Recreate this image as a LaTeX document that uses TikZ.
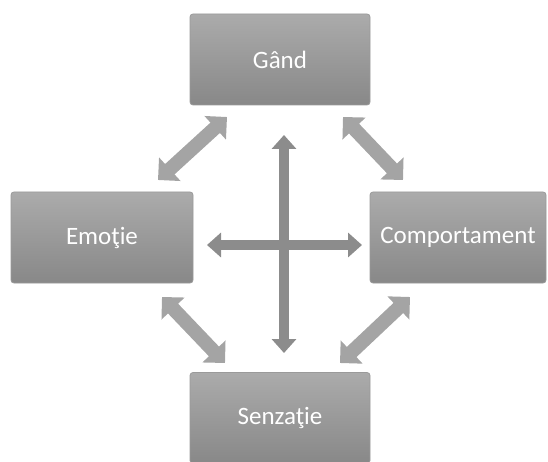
\documentclass[tikz,border=0pt]{standalone}
\usepackage{fontspec}
\setmainfont{Carlito}
\usetikzlibrary{arrows.meta}
\definecolor{boxtop}{HTML}{ABABAB}
\definecolor{boxbot}{HTML}{888888}
\definecolor{boxedge}{HTML}{9A9A9A}
\definecolor{diaggray}{HTML}{A4A4A4}
\definecolor{crossgray}{HTML}{8C8C8C}
\begin{document}
\begin{tikzpicture}[x=1pt,y=1pt,
  box/.style={rectangle, rounded corners=3pt, minimum width=180pt, minimum height=91pt,
    top color=boxtop, bottom color=boxbot, draw=boxedge, line width=0.8pt,
    text=white, font=\fontsize{25}{28}\selectfont, inner sep=0pt},
  diagarrow/.style={line width=14pt, draw=diaggray,
    {Triangle[length=16pt,width=31pt]}-{Triangle[length=16pt,width=31pt]}},
  crossarrow/.style={line width=10pt, draw=crossgray,
    {Triangle[length=14pt,width=24pt]}-{Triangle[length=14pt,width=24pt]}}]
\useasboundingbox (0,0) rectangle (548,461);
\node[box] (gand) at (280,401.5) {Gând};
\node[box, minimum width=182pt] (emotie) at (102,223.5) {Emoţie};
\node[box, minimum width=176pt] (comp) at (458,223.5) {Comportament};
\node[box] (senz) at (280,43) {Senzaţie};
% arrow end points
\coordinate (ge1) at (227,344);
\coordinate (ge2) at (158,281);
\coordinate (gc1) at (343,344);
\coordinate (gc2) at (403,281);
\coordinate (es1) at (162,164);
\coordinate (es2) at (225,98);
\coordinate (cs1) at (410,164);
\coordinate (cs2) at (340,98);
\coordinate (vt) at (284,326);
\coordinate (vb) at (284,108);
\coordinate (hl) at (207,216);
\coordinate (hr) at (362,216);
\draw[diagarrow] (ge1) -- (ge2);
\draw[diagarrow] (gc1) -- (gc2);
\draw[diagarrow] (es1) -- (es2);
\draw[diagarrow] (cs1) -- (cs2);
\draw[crossarrow] (vt) -- (vb);
\draw[crossarrow] (hl) -- (hr);
\end{tikzpicture}
\end{document}
